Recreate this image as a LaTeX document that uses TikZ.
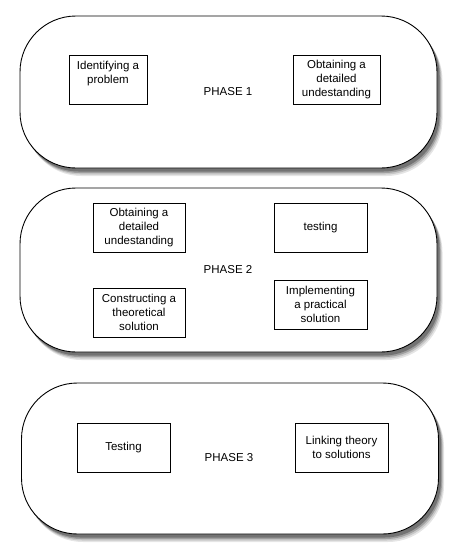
\documentclass[tikz,border=0pt]{standalone}
\usepackage{fontspec}
\setmainfont{Liberation Sans}

\begin{document}
\begin{tikzpicture}[x=1pt,y=-1pt,font=\fontsize{11.5}{14}\selectfont,
	shadowbox/.style={fill=black!#1,rounded corners=56pt,minimum width=417pt},
	phase/.style={draw,line width=0.9pt,fill=white,rounded corners=56pt,minimum width=417pt},
	task/.style={draw,line width=0.7pt,align=center,minimum height=49pt,inner sep=2pt}]
			\useasboundingbox(0,0)rectangle(458,558);
			% phase 1
			\node[shadowbox=10,minimum height=152pt](s1a)at(234,100){};
			\node[shadowbox=22,minimum height=152pt](s1b)at(233,98.5){};
			\node[shadowbox=38,minimum height=152pt](s1c)at(232,97){};
			\node[shadowbox=55,minimum height=152pt](s1d)at(231,95.5){};
			\node[phase,minimum height=152pt](p1)at(228.5,92){};
			\node(l1)at(228,92){PHASE 1};
			\node[task,minimum width=78pt](ip)at(108,79.5){Identifying a\\problem\\\mbox{}};
			\node[task,minimum width=87pt](od1)at(336.5,79.5){Obtaining a\\detailed\\undestanding};
			% phase 2
			\node[shadowbox=10,minimum height=164pt](s2a)at(234,278){};
			\node[shadowbox=22,minimum height=164pt](s2b)at(233,276.5){};
			\node[shadowbox=38,minimum height=164pt](s2c)at(232,275){};
			\node[shadowbox=55,minimum height=164pt](s2d)at(231,273.5){};
			\node[phase,minimum height=164pt](p2)at(228.5,270){};
			\node(l2)at(228,270){PHASE 2};
			\node[task,minimum width=92pt](od2)at(139,228){Obtaining a\\detailed\\undestanding};
			\node[task,minimum width=93pt](tst)at(320.5,228){testing};
			\node[task,minimum width=92pt](cts)at(139,312.5){Constructing a\\theoretical\\solution};
			\node[task,minimum width=93pt](ips)at(320.5,304.5){Implementing\\a practical\\solution};
			% phase 3
			\node[shadowbox=10,minimum height=151pt](s3a)at(235.5,466.5){};
			\node[shadowbox=22,minimum height=151pt](s3b)at(234.5,465){};
			\node[shadowbox=38,minimum height=151pt](s3c)at(233.5,463.5){};
			\node[shadowbox=55,minimum height=151pt](s3d)at(232.5,462){};
			\node[phase,minimum height=151pt](p3)at(230,458.5){};
			\node(l3)at(229,458){PHASE 3};
			\node[task,minimum width=93pt](tst3)at(123.5,447.5){Testing};
			\node[task,minimum width=93pt](ltt)at(341.5,447.5){Linking theory\\to solutions};
		\end{tikzpicture}
\end{document}
